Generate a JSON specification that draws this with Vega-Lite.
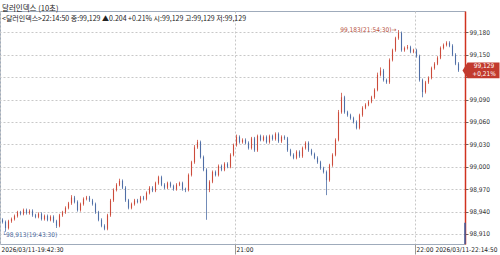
{
"$schema": "https://vega.github.io/schema/vega-lite/v6.json",
"width": 465, "height": 233,
"autosize": "none",
"padding": {"left": 0, "top": 11, "right": 35, "bottom": 11},
"background": "white",
"config": {"view": {"stroke": "#9fabbb", "strokeWidth": 1}},
"title": {"text": "달러인덱스 (10초)", "subtitle": "<달러인덱스>22:14:50 종:99,129 ▲0.204 +0.21% 시:99,129 고:99,129 저:99,129", "anchor": "start", "frame": "group", "offset": -11, "dx": 2, "font": "Noto Sans CJK KR", "fontSize": 7.5, "fontWeight": "normal", "color": "#222222", "subtitleFont": "Noto Sans CJK KR", "subtitleFontSize": 7, "subtitleColor": "#222222", "subtitlePadding": 3},
"datasets": {"candles": [
{"t":"2026-03-11T19:42:30","o":98.929,"h":98.931,"l":98.924,"c":98.926},
{"t":"2026-03-11T19:43:30","o":98.926,"h":98.928,"l":98.913,"c":98.918},
{"t":"2026-03-11T19:44:30","o":98.918,"h":98.929,"l":98.916,"c":98.927},
{"t":"2026-03-11T19:45:30","o":98.927,"h":98.932,"l":98.925,"c":98.930},
{"t":"2026-03-11T19:46:30","o":98.930,"h":98.936,"l":98.928,"c":98.934},
{"t":"2026-03-11T19:47:30","o":98.934,"h":98.941,"l":98.932,"c":98.939},
{"t":"2026-03-11T19:48:30","o":98.939,"h":98.941,"l":98.935,"c":98.937},
{"t":"2026-03-11T19:49:30","o":98.937,"h":98.944,"l":98.935,"c":98.942},
{"t":"2026-03-11T19:50:30","o":98.942,"h":98.944,"l":98.936,"c":98.938},
{"t":"2026-03-11T19:51:30","o":98.938,"h":98.943,"l":98.936,"c":98.941},
{"t":"2026-03-11T19:52:30","o":98.941,"h":98.943,"l":98.933,"c":98.935},
{"t":"2026-03-11T19:53:30","o":98.935,"h":98.937,"l":98.931,"c":98.933},
{"t":"2026-03-11T19:54:30","o":98.933,"h":98.939,"l":98.931,"c":98.937},
{"t":"2026-03-11T19:55:30","o":98.937,"h":98.939,"l":98.928,"c":98.930},
{"t":"2026-03-11T19:56:30","o":98.930,"h":98.936,"l":98.928,"c":98.934},
{"t":"2026-03-11T19:57:30","o":98.934,"h":98.936,"l":98.927,"c":98.929},
{"t":"2026-03-11T19:58:30","o":98.929,"h":98.935,"l":98.927,"c":98.933},
{"t":"2026-03-11T19:59:30","o":98.933,"h":98.935,"l":98.925,"c":98.927},
{"t":"2026-03-11T20:00:30","o":98.927,"h":98.929,"l":98.918,"c":98.921},
{"t":"2026-03-11T20:01:30","o":98.921,"h":98.937,"l":98.919,"c":98.935},
{"t":"2026-03-11T20:02:30","o":98.935,"h":98.941,"l":98.933,"c":98.939},
{"t":"2026-03-11T20:03:30","o":98.939,"h":98.947,"l":98.937,"c":98.945},
{"t":"2026-03-11T20:04:30","o":98.945,"h":98.953,"l":98.943,"c":98.951},
{"t":"2026-03-11T20:05:30","o":98.951,"h":98.962,"l":98.949,"c":98.959},
{"t":"2026-03-11T20:06:30","o":98.959,"h":98.961,"l":98.951,"c":98.953},
{"t":"2026-03-11T20:07:30","o":98.953,"h":98.955,"l":98.940,"c":98.942},
{"t":"2026-03-11T20:08:30","o":98.942,"h":98.952,"l":98.940,"c":98.950},
{"t":"2026-03-11T20:09:30","o":98.950,"h":98.959,"l":98.948,"c":98.957},
{"t":"2026-03-11T20:10:30","o":98.957,"h":98.961,"l":98.955,"c":98.959},
{"t":"2026-03-11T20:11:30","o":98.959,"h":98.961,"l":98.953,"c":98.955},
{"t":"2026-03-11T20:12:30","o":98.955,"h":98.957,"l":98.948,"c":98.950},
{"t":"2026-03-11T20:13:30","o":98.950,"h":98.952,"l":98.937,"c":98.939},
{"t":"2026-03-11T20:14:30","o":98.939,"h":98.941,"l":98.927,"c":98.929},
{"t":"2026-03-11T20:15:30","o":98.929,"h":98.931,"l":98.919,"c":98.921},
{"t":"2026-03-11T20:16:30","o":98.921,"h":98.923,"l":98.915,"c":98.917},
{"t":"2026-03-11T20:17:30","o":98.917,"h":98.937,"l":98.915,"c":98.935},
{"t":"2026-03-11T20:18:30","o":98.935,"h":98.957,"l":98.933,"c":98.955},
{"t":"2026-03-11T20:19:30","o":98.955,"h":98.971,"l":98.953,"c":98.969},
{"t":"2026-03-11T20:20:30","o":98.969,"h":98.978,"l":98.967,"c":98.976},
{"t":"2026-03-11T20:21:30","o":98.976,"h":98.984,"l":98.974,"c":98.981},
{"t":"2026-03-11T20:22:30","o":98.981,"h":98.983,"l":98.970,"c":98.972},
{"t":"2026-03-11T20:23:30","o":98.972,"h":98.974,"l":98.953,"c":98.955},
{"t":"2026-03-11T20:24:30","o":98.955,"h":98.957,"l":98.943,"c":98.945},
{"t":"2026-03-11T20:25:30","o":98.945,"h":98.952,"l":98.943,"c":98.950},
{"t":"2026-03-11T20:26:30","o":98.950,"h":98.957,"l":98.948,"c":98.955},
{"t":"2026-03-11T20:27:30","o":98.955,"h":98.957,"l":98.951,"c":98.953},
{"t":"2026-03-11T20:28:30","o":98.953,"h":98.961,"l":98.951,"c":98.959},
{"t":"2026-03-11T20:29:30","o":98.959,"h":98.961,"l":98.955,"c":98.957},
{"t":"2026-03-11T20:30:30","o":98.957,"h":98.967,"l":98.955,"c":98.965},
{"t":"2026-03-11T20:31:30","o":98.965,"h":98.974,"l":98.963,"c":98.972},
{"t":"2026-03-11T20:32:30","o":98.972,"h":98.974,"l":98.966,"c":98.968},
{"t":"2026-03-11T20:33:30","o":98.968,"h":98.980,"l":98.966,"c":98.978},
{"t":"2026-03-11T20:34:30","o":98.978,"h":98.988,"l":98.976,"c":98.986},
{"t":"2026-03-11T20:35:30","o":98.986,"h":98.988,"l":98.974,"c":98.976},
{"t":"2026-03-11T20:36:30","o":98.976,"h":98.978,"l":98.970,"c":98.972},
{"t":"2026-03-11T20:37:30","o":98.972,"h":98.980,"l":98.970,"c":98.978},
{"t":"2026-03-11T20:38:30","o":98.978,"h":98.980,"l":98.972,"c":98.974},
{"t":"2026-03-11T20:39:30","o":98.974,"h":98.976,"l":98.968,"c":98.970},
{"t":"2026-03-11T20:40:30","o":98.970,"h":98.978,"l":98.968,"c":98.976},
{"t":"2026-03-11T20:41:30","o":98.976,"h":98.980,"l":98.974,"c":98.978},
{"t":"2026-03-11T20:42:30","o":98.978,"h":98.980,"l":98.968,"c":98.970},
{"t":"2026-03-11T20:43:30","o":98.970,"h":98.972,"l":98.966,"c":98.969},
{"t":"2026-03-11T20:44:30","o":98.969,"h":98.991,"l":98.967,"c":98.989},
{"t":"2026-03-11T20:45:30","o":98.989,"h":99.008,"l":98.987,"c":99.006},
{"t":"2026-03-11T20:46:30","o":99.006,"h":99.029,"l":99.004,"c":99.026},
{"t":"2026-03-11T20:47:30","o":99.026,"h":99.036,"l":99.024,"c":99.033},
{"t":"2026-03-11T20:48:30","o":99.033,"h":99.035,"l":99.011,"c":99.013},
{"t":"2026-03-11T20:49:30","o":99.013,"h":99.015,"l":98.994,"c":98.996},
{"t":"2026-03-11T20:50:30","o":98.996,"h":98.998,"l":98.929,"c":98.969},
{"t":"2026-03-11T20:51:30","o":98.969,"h":98.982,"l":98.966,"c":98.980},
{"t":"2026-03-11T20:52:30","o":98.980,"h":98.995,"l":98.978,"c":98.993},
{"t":"2026-03-11T20:53:30","o":98.993,"h":98.995,"l":98.987,"c":98.989},
{"t":"2026-03-11T20:54:30","o":98.989,"h":99.003,"l":98.987,"c":99.001},
{"t":"2026-03-11T20:55:30","o":99.001,"h":99.003,"l":98.994,"c":98.996},
{"t":"2026-03-11T20:56:30","o":98.996,"h":99.006,"l":98.994,"c":99.004},
{"t":"2026-03-11T20:57:30","o":99.004,"h":99.006,"l":98.998,"c":99.000},
{"t":"2026-03-11T20:58:30","o":99.000,"h":99.018,"l":98.998,"c":99.016},
{"t":"2026-03-11T20:59:30","o":99.016,"h":99.031,"l":99.014,"c":99.029},
{"t":"2026-03-11T21:00:30","o":99.029,"h":99.043,"l":99.027,"c":99.040},
{"t":"2026-03-11T21:01:30","o":99.040,"h":99.042,"l":99.031,"c":99.033},
{"t":"2026-03-11T21:02:30","o":99.033,"h":99.038,"l":99.031,"c":99.036},
{"t":"2026-03-11T21:03:30","o":99.036,"h":99.038,"l":99.030,"c":99.032},
{"t":"2026-03-11T21:04:30","o":99.032,"h":99.034,"l":99.023,"c":99.025},
{"t":"2026-03-11T21:05:30","o":99.025,"h":99.040,"l":99.023,"c":99.038},
{"t":"2026-03-11T21:06:30","o":99.038,"h":99.040,"l":99.020,"c":99.022},
{"t":"2026-03-11T21:07:30","o":99.022,"h":99.043,"l":99.020,"c":99.041},
{"t":"2026-03-11T21:08:30","o":99.041,"h":99.043,"l":99.034,"c":99.036},
{"t":"2026-03-11T21:09:30","o":99.036,"h":99.042,"l":99.034,"c":99.040},
{"t":"2026-03-11T21:10:30","o":99.040,"h":99.042,"l":99.031,"c":99.033},
{"t":"2026-03-11T21:11:30","o":99.033,"h":99.043,"l":99.031,"c":99.041},
{"t":"2026-03-11T21:12:30","o":99.041,"h":99.043,"l":99.035,"c":99.037},
{"t":"2026-03-11T21:13:30","o":99.037,"h":99.046,"l":99.035,"c":99.044},
{"t":"2026-03-11T21:14:30","o":99.044,"h":99.046,"l":99.032,"c":99.034},
{"t":"2026-03-11T21:15:30","o":99.034,"h":99.042,"l":99.032,"c":99.040},
{"t":"2026-03-11T21:16:30","o":99.040,"h":99.042,"l":99.036,"c":99.038},
{"t":"2026-03-11T21:17:30","o":99.038,"h":99.040,"l":99.020,"c":99.022},
{"t":"2026-03-11T21:18:30","o":99.022,"h":99.024,"l":99.014,"c":99.016},
{"t":"2026-03-11T21:19:30","o":99.016,"h":99.018,"l":99.010,"c":99.012},
{"t":"2026-03-11T21:20:30","o":99.012,"h":99.022,"l":99.010,"c":99.020},
{"t":"2026-03-11T21:21:30","o":99.020,"h":99.022,"l":99.012,"c":99.014},
{"t":"2026-03-11T21:22:30","o":99.014,"h":99.027,"l":99.012,"c":99.025},
{"t":"2026-03-11T21:23:30","o":99.025,"h":99.034,"l":99.023,"c":99.032},
{"t":"2026-03-11T21:24:30","o":99.032,"h":99.034,"l":99.020,"c":99.022},
{"t":"2026-03-11T21:25:30","o":99.022,"h":99.024,"l":99.015,"c":99.017},
{"t":"2026-03-11T21:26:30","o":99.017,"h":99.019,"l":99.010,"c":99.012},
{"t":"2026-03-11T21:27:30","o":99.012,"h":99.014,"l":99.004,"c":99.006},
{"t":"2026-03-11T21:28:30","o":99.006,"h":99.008,"l":98.996,"c":98.998},
{"t":"2026-03-11T21:29:30","o":98.998,"h":99.000,"l":98.991,"c":98.993},
{"t":"2026-03-11T21:30:30","o":98.993,"h":98.995,"l":98.962,"c":98.982},
{"t":"2026-03-11T21:31:30","o":98.982,"h":99.004,"l":98.980,"c":99.002},
{"t":"2026-03-11T21:32:30","o":99.002,"h":99.018,"l":99.000,"c":99.016},
{"t":"2026-03-11T21:33:30","o":99.016,"h":99.038,"l":99.014,"c":99.036},
{"t":"2026-03-11T21:34:30","o":99.036,"h":99.076,"l":99.034,"c":99.073},
{"t":"2026-03-11T21:35:30","o":99.073,"h":99.099,"l":99.071,"c":99.093},
{"t":"2026-03-11T21:36:30","o":99.093,"h":99.095,"l":99.071,"c":99.073},
{"t":"2026-03-11T21:37:30","o":99.073,"h":99.075,"l":99.067,"c":99.069},
{"t":"2026-03-11T21:38:30","o":99.069,"h":99.071,"l":99.063,"c":99.065},
{"t":"2026-03-11T21:39:30","o":99.065,"h":99.067,"l":99.058,"c":99.060},
{"t":"2026-03-11T21:40:30","o":99.060,"h":99.062,"l":99.050,"c":99.052},
{"t":"2026-03-11T21:41:30","o":99.052,"h":99.071,"l":99.050,"c":99.069},
{"t":"2026-03-11T21:42:30","o":99.069,"h":99.081,"l":99.067,"c":99.079},
{"t":"2026-03-11T21:43:30","o":99.079,"h":99.085,"l":99.077,"c":99.083},
{"t":"2026-03-11T21:44:30","o":99.083,"h":99.089,"l":99.081,"c":99.087},
{"t":"2026-03-11T21:45:30","o":99.087,"h":99.095,"l":99.085,"c":99.093},
{"t":"2026-03-11T21:46:30","o":99.093,"h":99.105,"l":99.091,"c":99.103},
{"t":"2026-03-11T21:47:30","o":99.103,"h":99.126,"l":99.101,"c":99.123},
{"t":"2026-03-11T21:48:30","o":99.123,"h":99.133,"l":99.121,"c":99.129},
{"t":"2026-03-11T21:49:30","o":99.129,"h":99.131,"l":99.114,"c":99.116},
{"t":"2026-03-11T21:50:30","o":99.116,"h":99.118,"l":99.111,"c":99.113},
{"t":"2026-03-11T21:51:30","o":99.113,"h":99.145,"l":99.111,"c":99.143},
{"t":"2026-03-11T21:52:30","o":99.143,"h":99.158,"l":99.141,"c":99.156},
{"t":"2026-03-11T21:53:30","o":99.156,"h":99.174,"l":99.154,"c":99.172},
{"t":"2026-03-11T21:54:30","o":99.172,"h":99.183,"l":99.170,"c":99.179},
{"t":"2026-03-11T21:55:30","o":99.179,"h":99.181,"l":99.154,"c":99.156},
{"t":"2026-03-11T21:56:30","o":99.156,"h":99.161,"l":99.154,"c":99.159},
{"t":"2026-03-11T21:57:30","o":99.159,"h":99.163,"l":99.157,"c":99.160},
{"t":"2026-03-11T21:58:30","o":99.160,"h":99.162,"l":99.152,"c":99.154},
{"t":"2026-03-11T21:59:30","o":99.154,"h":99.158,"l":99.152,"c":99.156},
{"t":"2026-03-11T22:00:30","o":99.156,"h":99.158,"l":99.146,"c":99.148},
{"t":"2026-03-11T22:01:30","o":99.148,"h":99.150,"l":99.114,"c":99.116},
{"t":"2026-03-11T22:02:30","o":99.116,"h":99.118,"l":99.093,"c":99.100},
{"t":"2026-03-11T22:03:30","o":99.100,"h":99.115,"l":99.098,"c":99.113},
{"t":"2026-03-11T22:04:30","o":99.113,"h":99.121,"l":99.111,"c":99.119},
{"t":"2026-03-11T22:05:30","o":99.119,"h":99.134,"l":99.117,"c":99.132},
{"t":"2026-03-11T22:06:30","o":99.132,"h":99.140,"l":99.130,"c":99.138},
{"t":"2026-03-11T22:07:30","o":99.138,"h":99.148,"l":99.136,"c":99.146},
{"t":"2026-03-11T22:08:30","o":99.146,"h":99.161,"l":99.144,"c":99.159},
{"t":"2026-03-11T22:09:30","o":99.159,"h":99.165,"l":99.157,"c":99.163},
{"t":"2026-03-11T22:10:30","o":99.163,"h":99.168,"l":99.161,"c":99.166},
{"t":"2026-03-11T22:11:30","o":99.166,"h":99.168,"l":99.160,"c":99.162},
{"t":"2026-03-11T22:12:30","o":99.162,"h":99.164,"l":99.148,"c":99.150},
{"t":"2026-03-11T22:13:30","o":99.150,"h":99.152,"l":99.136,"c":99.138},
{"t":"2026-03-11T22:14:30","o":99.138,"h":99.140,"l":99.127,"c":99.129}
]},
"layer": [
{"data": {"name": "candles"},
 "mark": {"type": "rule", "strokeWidth": 0.8},
 "encoding": {
  "x": {"field": "t", "type": "temporal", "title": null,
   "scale": {"padding": 0, "domain": [{"year": 2026, "month": 3, "date": 11, "hours": 19, "minutes": 41, "seconds": 40}, {"year": 2026, "month": 3, "date": 11, "hours": 22, "minutes": 16, "seconds": 40}]},
   "axis": {"values": [{"year": 2026, "month": 3, "date": 11, "hours": 19, "minutes": 41, "seconds": 40}, {"year": 2026, "month": 3, "date": 11, "hours": 21, "minutes": 0}, {"year": 2026, "month": 3, "date": 11, "hours": 22, "minutes": 0}, {"year": 2026, "month": 3, "date": 11, "hours": 22, "minutes": 16, "seconds": 40}],
    "tickCount": 20,
    "labelExpr": "timeFormat(datum.value,'%H:%M')=='19:41' ? '2026/03/11-19:42:30' : (timeFormat(datum.value,'%H:%M')=='22:16' ? '2026/03/11-22:14:50' : timeFormat(datum.value,'%H:%M'))",
    "domain": false, "grid": true, "gridDash": [2, 2], "gridColor": "#c8c8c8",
    "tickSize": 10, "tickColor": "#999999",
    "tickOpacity": {"condition": {"test": "timeFormat(datum.value,'%M')=='00'", "value": 1}, "value": 0},
    "labelAlign": {"condition": {"test": "timeFormat(datum.value,'%H:%M')=='22:16'", "value": "right"}, "value": "left"},
    "labelOffset": {"condition": {"test": "timeFormat(datum.value,'%H:%M')=='22:16'", "value": 32}, "value": 1},
    "labelBaseline": "middle", "labelPadding": -4.5, "labelFlush": false, "labelOverlap": false,
    "labelFont": "'Liberation Sans Narrow', 'DejaVu Sans Condensed', sans-serif", "labelFontSize": 6.5, "labelColor": "#222222"}},
  "y": {"field": "l", "type": "quantitative", "title": null,
   "scale": {"domain": [98.8966, 99.2085], "zero": false, "nice": false, "padding": 0},
   "axis": {"orient": "right", "values": [98.91, 98.94, 98.97, 99.0, 99.03, 99.06, 99.09, 99.12, 99.15, 99.18],
    "tickCount": 20,
    "labelExpr": "replace(format(datum.value,'.3f'),'.',',')", "labelOverlap": false,
    "labelOpacity": {"condition": {"test": "abs(datum.value - 99.12) < 0.001", "value": 0}, "value": 1},
    "grid": true, "gridDash": [2, 2], "gridColor": "#c8c8c8",
    "domainColor": "#d0321f", "domainWidth": 1.5, "tickSize": 3, "tickColor": "#666666", "labelPadding": 1,
    "labelFont": "'Liberation Sans Narrow', 'DejaVu Sans Condensed', sans-serif", "labelFontSize": 6.5, "labelColor": "#333333"}},
  "y2": {"field": "h"},
  "color": {"condition": {"test": "datum.c >= datum.o", "value": "#cc4b3b"}, "value": "#4f6ea6"}
 }},
{"data": {"name": "candles"},
 "mark": {"type": "bar", "width": 1.1},
 "encoding": {
  "x": {"field": "t", "type": "temporal"},
  "y": {"field": "o", "type": "quantitative"},
  "y2": {"field": "c"},
  "color": {"condition": {"test": "datum.c >= datum.o", "value": "#cc4b3b"}, "value": "#4f6ea6"}
 }},
{"data": {"values": [{"t": "2026-03-11T22:16:40", "v1": 98.8966, "v2": 98.925}]},
 "mark": {"type": "rule", "color": "#3c5ca0", "strokeWidth": 1.5, "clip": false},
 "encoding": {"x": {"field": "t", "type": "temporal"}, "y": {"field": "v1", "type": "quantitative"}, "y2": {"field": "v2"}}},
{"data": {"values": [{"t": "2026-03-11T21:54:30", "v": 99.183, "label": "99,183(21:54:30)→"}]},
 "mark": {"type": "text", "align": "right", "baseline": "middle", "dx": -2, "font": "'Liberation Sans Narrow', 'DejaVu Sans Condensed', sans-serif", "fontSize": 6.5, "color": "#b5503e"},
 "encoding": {"x": {"field": "t", "type": "temporal"}, "y": {"field": "v", "type": "quantitative"}, "text": {"field": "label"}}},
{"data": {"values": [{"t": "2026-03-11T19:43:30", "v": 98.913, "label": "└98,913(19:43:30)"}]},
 "mark": {"type": "text", "align": "left", "baseline": "top", "dx": -3, "dy": 0, "font": "'Liberation Sans Narrow', 'DejaVu Sans Condensed', sans-serif", "fontSize": 6.5, "color": "#4d6aa0"},
 "encoding": {"x": {"field": "t", "type": "temporal"}, "y": {"field": "v", "type": "quantitative"}, "text": {"field": "label"}}},
{"data": {"values": [{"t": "2026-03-11T22:16:40", "v": 99.129, "label": "99,129\n+0,21%"}]},
 "layer": [
  {"mark": {"type": "point", "shape": "M-1,0L-0.73,-0.43L1,-0.43L1,0.43L-0.73,0.43Z", "size": 1369, "filled": true, "fill": "#c23a2e", "opacity": 1, "strokeWidth": 0, "xOffset": 16, "clip": false},
   "encoding": {"x": {"field": "t", "type": "temporal"}, "y": {"field": "v", "type": "quantitative"}}},
  {"mark": {"type": "text", "align": "center", "baseline": "middle", "lineBreak": "\n", "lineHeight": 7.5, "dx": 19, "dy": -4, "font": "'Liberation Sans Narrow', 'DejaVu Sans Condensed', sans-serif", "fontSize": 6.5, "color": "white", "clip": false},
   "encoding": {"x": {"field": "t", "type": "temporal"}, "y": {"field": "v", "type": "quantitative"}, "text": {"field": "label"}}}
 ]}
]
}
